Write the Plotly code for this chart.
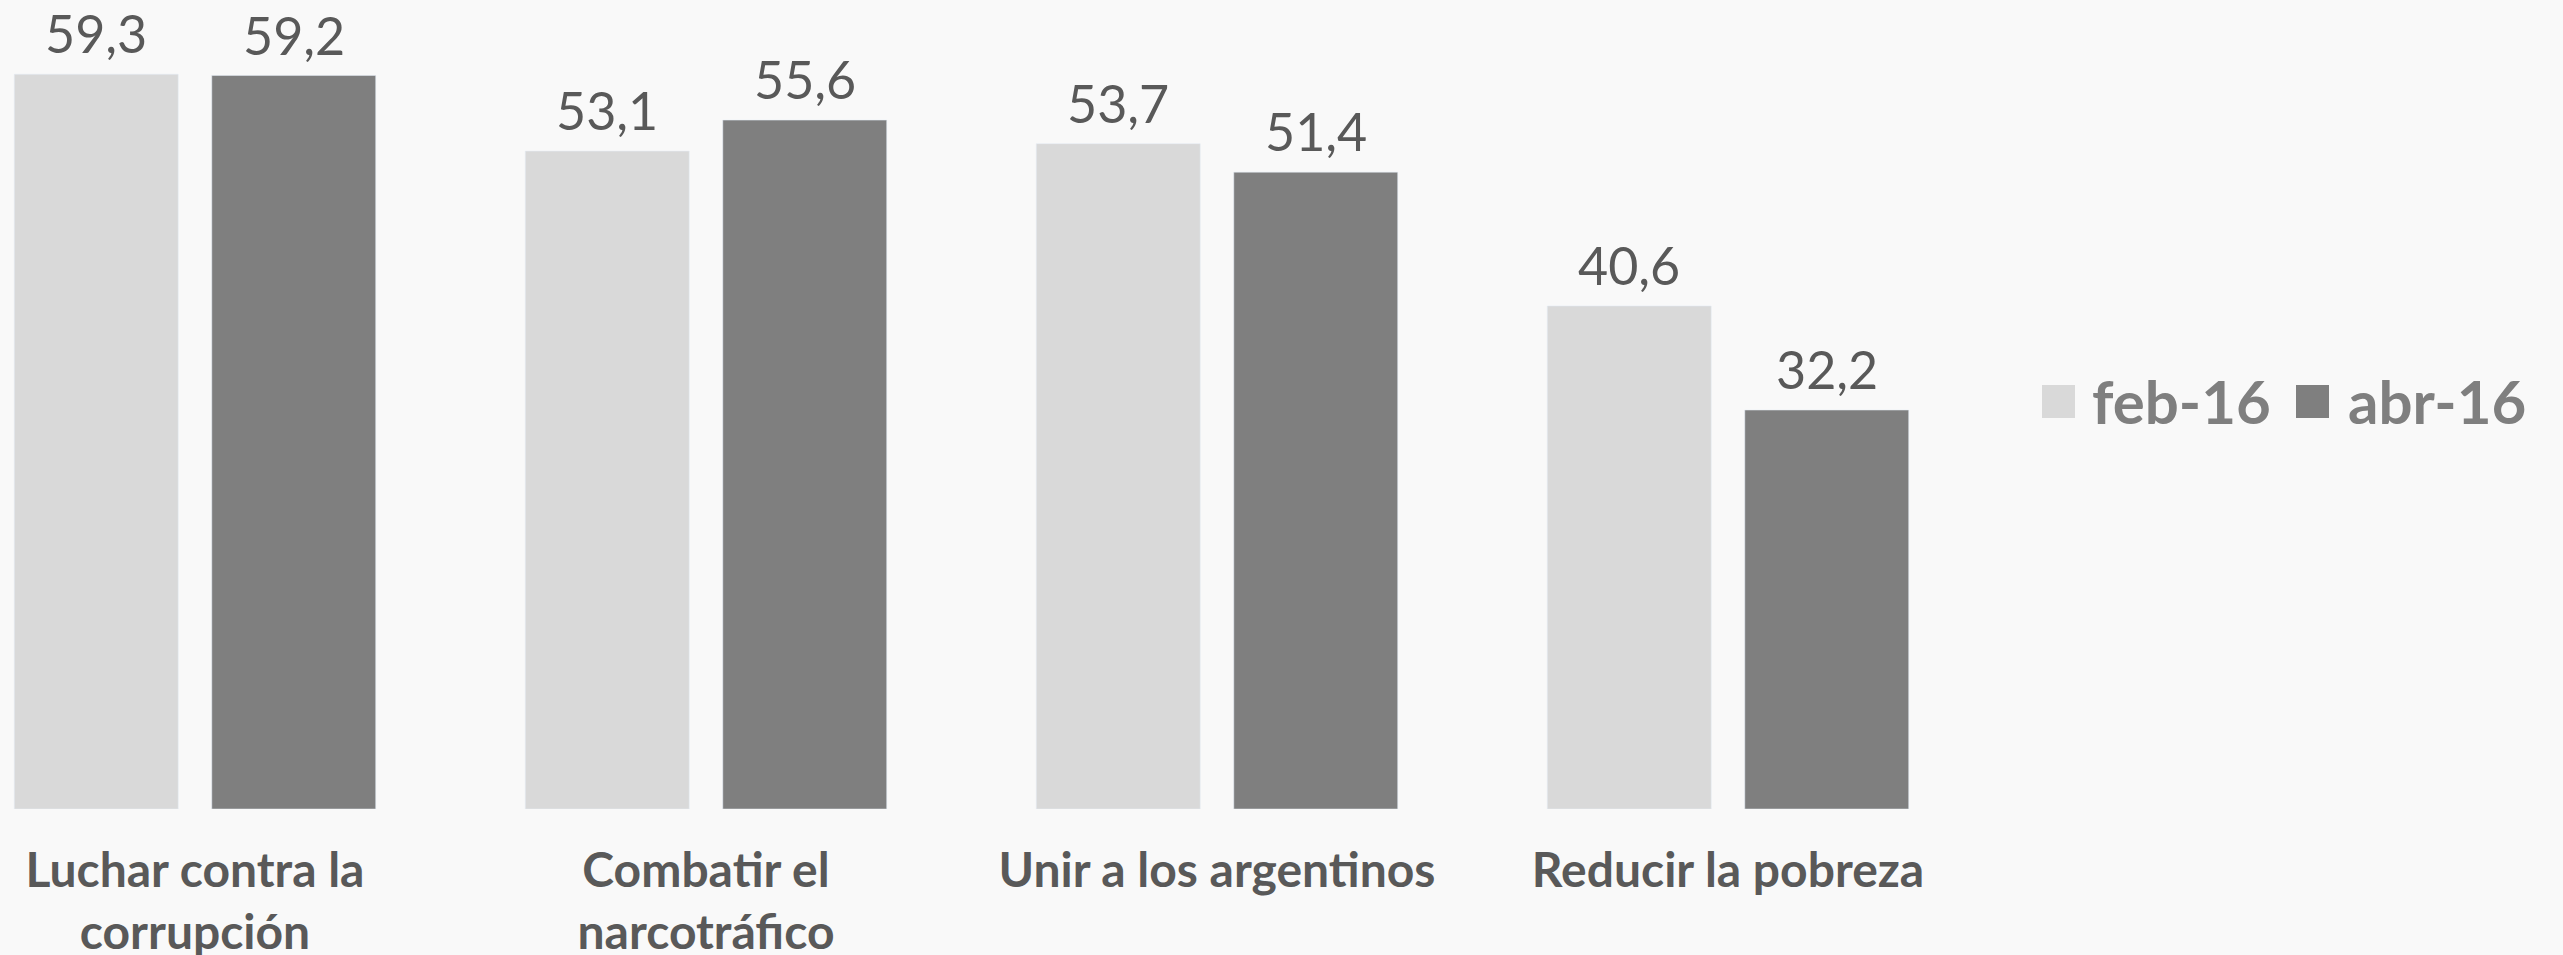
import plotly.graph_objects as go

categories = ["Luchar contra la<br>corrupción", "Combatir el<br>narcotráfico",
              "Unir a los argentinos", "Reducir la pobreza"]
series_names = ["feb-16", "abr-16"]
feb_values = [59.3, 53.1, 53.7, 40.6]
abr_values = [59.2, 55.6, 51.4, 32.2]
colors = ["#d9d9d9", "#7f7f7f"]

def fmt(v):
    return f"{v:.1f}".replace(".", ",")

W, H = 2563, 955
ml, mr, mt, mb = 0, 563, 0, 146
pw = W - ml - mr
ph = H - mt - mb
BARGAP, GROUPGAP = 0.227, 0.17

fig = go.Figure()
all_vals = [feb_values, abr_values]
for name, vals, col in zip(series_names, all_vals, colors):
    fig.add_trace(go.Bar(
        x=categories, y=vals, name=name, marker_color=col,
        showlegend=False, hoverinfo="x+y",
    ))

# value labels above bars, placed at each bar's centre on the category axis
n_series = len(all_vals)
slot = (1 - BARGAP) / n_series
for si, vals in enumerate(all_vals):
    off = -(1 - BARGAP) / 2 + slot * (si + 0.5)
    for ci, v in enumerate(vals):
        fig.add_annotation(xref="x", yref="y", x=ci + off, y=v, yshift=41,
                           xanchor="center", yanchor="middle", text=fmt(v),
                           showarrow=False,
                           font=dict(family="Lato", size=52, color="#595959"))

# legend built from shapes/annotations
leg_items = [(series_names[0], colors[0], 2042, 2090), (series_names[1], colors[1], 2296, 2346)]
for name, col, sx, tx in leg_items:
    fig.add_shape(type="rect", xref="paper", yref="paper",
                  x0=(sx - ml) / pw, x1=(sx + 33 - ml) / pw,
                  y0=(ph - (418 - mt)) / ph, y1=(ph - (385 - mt)) / ph,
                  fillcolor=col, line_width=0)
    fig.add_annotation(xref="paper", yref="paper", x=(tx - ml) / pw,
                       y=(ph - (401 - mt)) / ph, xanchor="left", yanchor="middle",
                       text=f"<b>{name}</b>", showarrow=False,
                       font=dict(family="Lato", size=60, color="#7f7f7f"))

fig.update_layout(
    width=W, height=H,
    margin=dict(l=ml, r=mr, t=mt, b=mb, autoexpand=False),
    paper_bgcolor="#f9f9f9", plot_bgcolor="#f9f9f9",
    barmode="group", bargap=BARGAP, bargroupgap=GROUPGAP,
    xaxis=dict(range=[-0.3816, -0.3816 + pw / 511], showgrid=False, showline=False,
               zeroline=False, ticks="", ticklabelstandoff=29, automargin=False,
               tickfont=dict(family="Lato", size=48, color="#595959", weight="bold")),
    yaxis=dict(range=[0, ph / 12.39], visible=False, automargin=False),
)
fig.write_html("out.html", config={"displayModeBar": False},
               post_script="document.body.style.margin='0';document.body.style.background='#f9f9f9';document.body.style.overflow='hidden';")
